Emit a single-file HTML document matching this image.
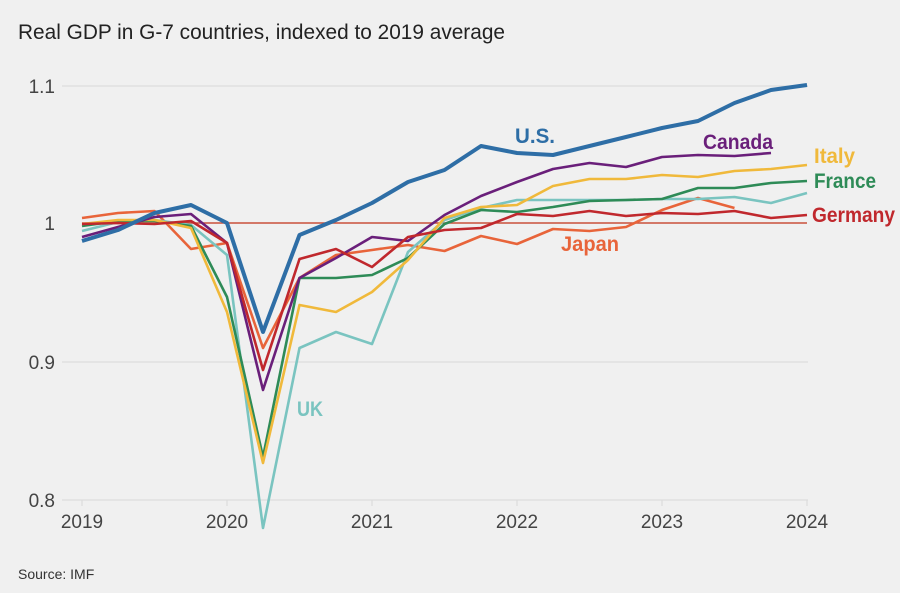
<!DOCTYPE html>
<html><head><meta charset="utf-8"><style>
body{margin:0;background:#f0f0f0;}
svg{display:block;font-family:"Liberation Sans",sans-serif;}
</style></head><body>
<svg width="900" height="593" viewBox="0 0 900 593">
<rect width="900" height="593" fill="#f0f0f0"/>
<text x="18" y="39" font-size="21" fill="#222" textLength="487" lengthAdjust="spacingAndGlyphs">Real GDP in G-7 countries, indexed to 2019 average</text>
<g stroke="#dcdcdc" stroke-width="1.2">
<line x1="62" y1="86" x2="808" y2="86"/>
<line x1="62" y1="362" x2="808" y2="362"/>
<line x1="62" y1="500" x2="808" y2="500"/>
<line x1="82" y1="500" x2="82" y2="506"/><line x1="227" y1="500" x2="227" y2="506"/><line x1="372" y1="500" x2="372" y2="506"/><line x1="517" y1="500" x2="517" y2="506"/><line x1="662" y1="500" x2="662" y2="506"/><line x1="807" y1="500" x2="807" y2="506"/>
</g>
<g font-size="19" fill="#444" text-anchor="end">
<text x="55" y="93">1.1</text><text x="55" y="230">1</text><text x="55" y="369">0.9</text><text x="55" y="507">0.8</text>
</g>
<g font-size="19" fill="#444" text-anchor="middle">
<text x="82" y="528">2019</text><text x="227" y="528">2020</text><text x="372" y="528">2021</text><text x="517" y="528">2022</text><text x="662" y="528">2023</text><text x="807" y="528">2024</text>
</g>
<line x1="82" y1="223" x2="807" y2="223" stroke="#c9503a" stroke-width="1.6"/>
<g fill="none" stroke-linejoin="round" stroke-width="2.6">
<polyline stroke="#e8643a" points="82,218 118,213 154.5,211 191,249 227,243 263,348 299.5,278 336,255 372,250 408,245 444.5,251 481,236 517,244 553,229 589.5,231 626,227 662,210 698,198 734.5,208"/>
<polyline stroke="#7ac4c0" points="82,231 118,222 154.5,220 191,225 227,255 263,528 299.5,348 336,332 372,344 408,252 444.5,220 481,208 517,200 553,200 589.5,200 626,200 662,199 698,199 734.5,197 771,203 807,193"/>
<polyline stroke="#2e8b57" points="82,226 118,221 154.5,221 191,226 227,297 263,457 299.5,278 336,278 372,275 408,258 444.5,224 481,210 517,212 553,207 589.5,201 626,200 662,199 698,188 734.5,188 771,183 807,181"/>
<polyline stroke="#f0b93b" points="82,224 118,220 154.5,220 191,228 227,312 263,463 299.5,305 336,312 372,292 408,260 444.5,218 481,207 517,205 553,186 589.5,179 626,179 662,175 698,177 734.5,171 771,169 807,165"/>
<polyline stroke="#6a1f7a" points="82,237 118,227 154.5,217 191,214 227,243 263,390 299.5,278 336,258 372,237 408,241 444.5,215 481,196 517,182 553,169 589.5,163 626,167 662,157 698,155 734.5,156 771,153"/>
<polyline stroke="#c0282d" points="82,224 118,223 154.5,224 191,221 227,243 263,370 299.5,259 336,249 372,267 408,237 444.5,230 481,228 517,214 553,216 589.5,211 626,216 662,213 698,214 734.5,211 771,218 807,215"/>
<polyline stroke="#2e6ea6" stroke-width="4" points="82,241 118,230 154.5,213 191,205 227,223 263,332 299.5,235 336,220 372,203 408,182 444.5,170 481,146 517,153 553,155 589.5,146 626,137 662,128 698,121 734.5,103 771,90 807,85"/>
</g>
<g font-size="21" font-weight="bold" lengthAdjust="spacingAndGlyphs">
<text x="515" y="143" fill="#2e6ea6" textLength="40" lengthAdjust="spacingAndGlyphs">U.S.</text>
<text x="703" y="149" fill="#6a1f7a" textLength="70" lengthAdjust="spacingAndGlyphs">Canada</text>
<text x="814" y="163" fill="#f0b93b" textLength="41" lengthAdjust="spacingAndGlyphs">Italy</text>
<text x="814" y="188" fill="#2e8b57" textLength="62" lengthAdjust="spacingAndGlyphs">France</text>
<text x="812" y="222" fill="#c0282d" textLength="83" lengthAdjust="spacingAndGlyphs">Germany</text>
<text x="561" y="251" fill="#e8643a" textLength="58" lengthAdjust="spacingAndGlyphs">Japan</text>
<text x="297" y="416" fill="#7ac4c0" textLength="26" lengthAdjust="spacingAndGlyphs">UK</text>
</g>
<text x="18" y="579" font-size="14" fill="#333">Source: IMF</text>
</svg>
</body></html>
